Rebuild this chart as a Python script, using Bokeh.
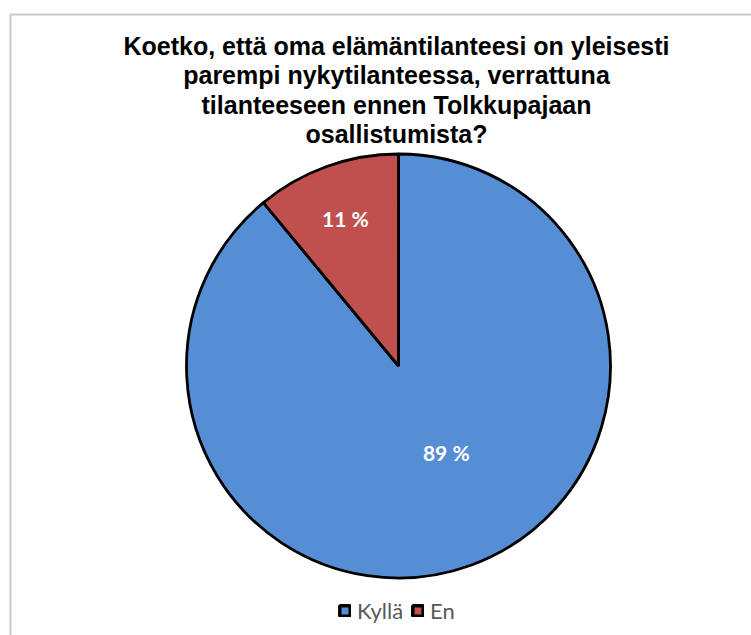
import math
from bokeh.plotting import figure
from bokeh.models import Range1d, ColumnDataSource, Legend, LegendItem, BoxAnnotation
from bokeh.core.properties import value
from bokeh.embed import file_html
from bokeh.resources import INLINE

# ---- data ----
categories = ["Kyllä", "En"]
percents = [89, 11]
colors = ["#558ED5", "#C0504D"]
title_lines = [
    "Koetko, että oma elämäntilanteesi on yleisesti",
    "parempi nykytilanteessa, verrattuna",
    "tilanteeseen ennen Tolkkupajaan",
    "osallistumista?",
]

# ---- layout (page pixel coordinates, y negative downward) ----
W, H = 751, 635
cx, cy, r = 398, -365.5, 212

p = figure(width=W, height=H, output_backend="svg", toolbar_location=None,
           x_range=Range1d(0, W), y_range=Range1d(-H, 0),
           min_border=0, border_fill_color="white", outline_line_color=None)
p.axis.visible = False
p.grid.visible = False

# clockwise from 12 o'clock
total = sum(percents)
starts, ends, mids = [], [], []
a = math.pi / 2
for v in percents:
    span = v / total * 2 * math.pi
    starts.append(a - span)
    ends.append(a)
    mids.append(a - span / 2)
    a -= span

src = ColumnDataSource(dict(cat=categories, val=percents, color=colors,
                            start=starts, end=ends,
                            x=[cx] * len(percents), y=[cy] * len(percents)))
# legend-only renderer (zero radius, thick outline for the swatches)
lr = p.wedge(x="x", y="y", radius=0, start_angle="start", end_angle="end",
             fill_color="color", line_color="black", line_width=3.5, source=src)
wr = p.wedge(x="x", y="y", radius=r, start_angle="start", end_angle="end",
             fill_color="color", line_color="black", line_width=2.8, source=src)

# labels
lab_frac = [0.47, 0.74]
x_off = [14, 0]
y_off = [7, 0]
lx = [cx + f * r * math.cos(m) + xo for f, m, xo in zip(lab_frac, mids, x_off)]
ly = [cy + f * r * math.sin(m) + yo for f, m, yo in zip(lab_frac, mids, y_off)]
ltxt = [f"{v} %" for v in percents]
p.text(x=lx, y=ly, text=ltxt, text_color="white", text_font=value("Lato"),
       text_font_style="bold", text_font_size="21px",
       text_align="center", text_baseline="middle")

# title
ty = [-45, -74.5, -104, -133.5]
p.text(x=[396] * 4, y=ty, text=title_lines, text_color="black",
       text_font=value("Liberation Sans"), text_font_style="bold",
       text_font_size="25px", text_align="center", text_baseline="alphabetic")

# border
p.add_layout(BoxAnnotation(left=10, right=900, top=-14, bottom=-900,
                           fill_color=None, line_color="#5e4a63", line_width=2))

legend = Legend(items=[LegendItem(label=c, renderers=[lr], index=i)
                       for i, c in enumerate(categories)],
                orientation="horizontal", location=(338, 11),
                glyph_width=13, glyph_height=13, label_standoff=6, spacing=8,
                padding=0, margin=0, border_line_color=None,
                background_fill_alpha=0,
                label_text_font="Lato", label_text_font_size="22px",
                label_text_color="#595959")
p.add_layout(legend, "center")

open("out.html", "w").write(file_html(p, INLINE))
